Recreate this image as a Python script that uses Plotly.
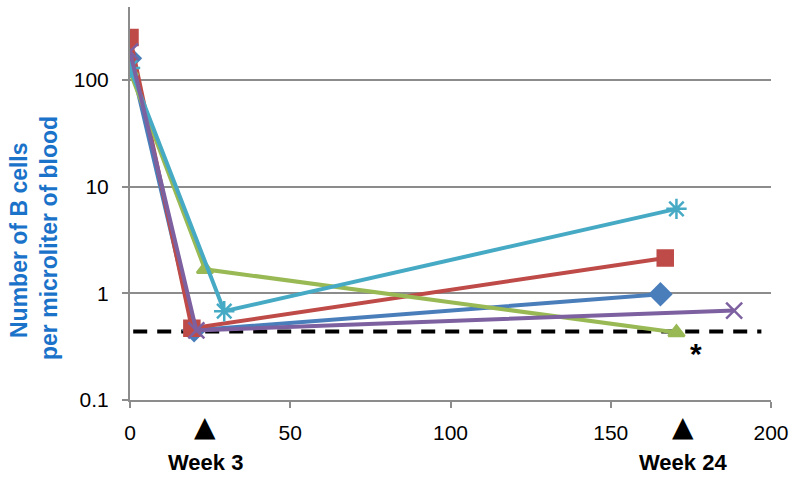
import plotly.graph_objects as go

# Data (days vs B cells per microliter of blood)
blue_x = [0, 20, 165.5]
blue_y = [160, 0.45, 0.98]
red_x = [0, 19.3, 167]
red_y = [250, 0.47, 2.15]
green_x = [0, 23.4, 170.5]
green_y = [120, 1.68, 0.43]
cyan_x = [0, 29.4, 170.5]
cyan_y = [130, 0.68, 6.2]
purple_x = [0, 20.7, 188.5]
purple_y = [185, 0.45, 0.69]
threshold_y = 0.44
threshold_x = [1, 197]
week_x = [23.5, 172.5]
week_labels = ["Week 3", "Week 24"]
x_ticks = [0, 50, 100, 150, 200]
y_ticks = [0.1, 1, 10, 100]
y_tick_labels = ["0.1", "1", "10", "100"]

series = [
    (blue_x, blue_y, "#4A7EBB", "diamond", 16),
    (red_x, red_y, "#BE4B48", "square", 15),
    (green_x, green_y, "#98B954", "triangle-up", 14),
    (cyan_x, cyan_y, "#46AAC5", "asterisk-open", 17),
    (purple_x, purple_y, "#7D60A0", "x-thin-open", 16),
]

W, H = 791, 478
L, R, T, B = 130, 20, 7, 78

fig = go.Figure()

fig.add_trace(go.Scatter(
    x=threshold_x, y=[threshold_y, threshold_y], mode="lines",
    line=dict(color="black", width=4, dash="14px,10px"),
    showlegend=False, hoverinfo="skip"))

for xs, ys, col, sym, sz in series:
    fig.add_trace(go.Scatter(
        x=xs, y=ys, mode="lines+markers",
        line=dict(color=col, width=4),
        marker=dict(symbol=sym, size=sz, color=col,
                    line=dict(color=col, width=2.5)),
        showlegend=False))


def py_to_paper(py):
    return (H - B - py) / (H - T - B)


def px_to_paper(px):
    return (px - L) / (W - L - R)


# week arrows and labels below the axis
for wx, wl in zip(week_x, week_labels):
    fig.add_annotation(x=wx, y=py_to_paper(426), xref="x", yref="paper", text="▲",
                       showarrow=False, font=dict(family="DejaVu Sans", size=28, color="black"),
                       xanchor="center", yanchor="middle")
    fig.add_annotation(x=wx, y=py_to_paper(462), xref="x", yref="paper", text="<b>" + wl + "</b>",
                       showarrow=False, font=dict(family="Liberation Sans", size=22, color="black"),
                       xanchor="center", yanchor="middle")

fig.add_annotation(x=176.6, y=-0.56, xref="x", yref="y", text="<b>*</b>", showarrow=False,
                   font=dict(family="Liberation Sans", size=30, color="black"),
                   xanchor="center", yanchor="middle")

fig.add_annotation(x=px_to_paper(19), y=py_to_paper(240), xref="paper", yref="paper",
                   text="<b>Number of B cells</b>",
                   showarrow=False, textangle=-90, xanchor="center", yanchor="middle",
                   font=dict(family="Liberation Sans", size=23, color="#1A72C9"))
fig.add_annotation(x=px_to_paper(49), y=py_to_paper(238), xref="paper", yref="paper",
                   text="<b>per microliter of blood</b>",
                   showarrow=False, textangle=-90, xanchor="center", yanchor="middle",
                   font=dict(family="Liberation Sans", size=23, color="#1A72C9"))

fig.update_layout(
    width=W, height=H,
    margin=dict(l=L, r=R, t=T, b=B, autoexpand=False),
    plot_bgcolor="white", paper_bgcolor="white",
    font=dict(family="Liberation Sans", size=21, color="black"),
    xaxis=dict(range=[0, 200], tickvals=x_ticks, showgrid=False, zeroline=False,
               showline=True, linecolor="#8C8C8C", linewidth=2,
               ticks="outside", ticklen=6, tickwidth=2, tickcolor="#8C8C8C",
               ticklabelstandoff=7, tickfont=dict(size=21)),
    yaxis=dict(type="log", range=[-1, 2.685], tickvals=y_ticks, ticktext=y_tick_labels,
               showgrid=True, gridcolor="#8C8C8C", gridwidth=2, zeroline=False,
               showline=True, linecolor="#8C8C8C", linewidth=2,
               ticks="outside", ticklen=6, tickwidth=2, tickcolor="#8C8C8C",
               ticklabelstandoff=9, tickfont=dict(size=21)),
)

fig.write_html("out.html", config={"displayModeBar": False},
               post_script="document.body.style.margin='0';")
